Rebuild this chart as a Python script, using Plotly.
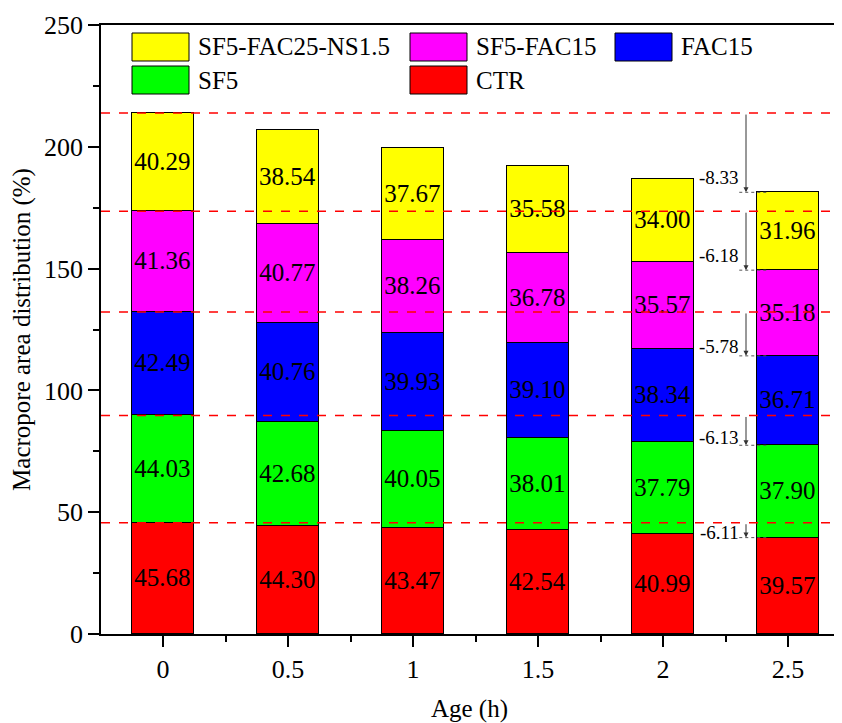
import plotly.graph_objects as go

# 数据
ages = [0, 0.5, 1, 1.5, 2, 2.5]
age_labels = ["0", "0.5", "1", "1.5", "2", "2.5"]
series_names = ["CTR", "SF5", "FAC15", "SF5-FAC15", "SF5-FAC25-NS1.5"]
ctr = [45.68, 44.30, 43.47, 42.54, 40.99, 39.57]
sf5 = [44.03, 42.68, 40.05, 38.01, 37.79, 37.90]
fac15 = [42.49, 40.76, 39.93, 39.10, 38.34, 36.71]
sf5_fac15 = [41.36, 40.77, 38.26, 36.78, 35.57, 35.18]
sf5_fac25_ns = [40.29, 38.54, 37.67, 35.58, 34.00, 31.96]
colors = ["#FF0000", "#00FF00", "#0000FF", "#FF00FF", "#FFFF00"]

FONT = "Liberation Serif"


def build_figure():
    values = [ctr, sf5, fac15, sf5_fac15, sf5_fac25_ns]
    fig = go.Figure()

    for name, vals, col in zip(series_names, values, colors):
        fig.add_trace(go.Bar(
            x=ages, y=vals, name=name, width=0.25,
            marker=dict(color=col, line=dict(color="black", width=1.5)),
            text=[f"{v:.2f}" for v in vals], textposition="inside",
            insidetextanchor="middle", textangle=0, constraintext="none",
            textfont=dict(family=FONT, size=25, color="black"),
            showlegend=False,
        ))

    # 累计值: 第一组(0 h)与最后一组(2.5 h)
    first_cum, last_cum = [], []
    s0 = s1 = 0
    for vals in values:
        s0 += vals[0]
        s1 += vals[-1]
        first_cum.append(s0)
        last_cum.append(s1)

    label_shift = [5, 8, 9, 15, 15]
    shapes, annotations = [], []
    for y0, y1, vals, ys in zip(first_cum, last_cum, values, label_shift):
        shapes.append(dict(type="line", xref="paper", x0=0, x1=1, yref="y", y0=y0, y1=y0,
                           line=dict(color="#FF0000", width=1.6, dash="dash")))
        shapes.append(dict(type="line", xref="x", x0=2.305, x1=2.42, yref="y", y0=y1, y1=y1,
                           line=dict(color="#555555", width=1, dash="dot")))
        annotations.append(dict(x=2.332, y=y1, ax=2.332, ay=y0, xref="x", yref="y",
                                axref="x", ayref="y", text="", showarrow=True,
                                arrowhead=2, arrowsize=1, arrowwidth=1, arrowcolor="#333333"))
        annotations.append(dict(x=2.31, y=y1, xref="x", yref="y", text=f"-{vals[0] - vals[-1]:.2f}",
                                showarrow=False, xanchor="right", yanchor="middle", yshift=ys,
                                font=dict(family=FONT, size=19, color="black")))

    # 手动图例 (像素位置相对于绘图区)
    legend_items = [
        ("SF5-FAC25-NS1.5", colors[4], 132, 33),
        ("SF5-FAC15", colors[3], 410, 33),
        ("FAC15", colors[2], 615, 33),
        ("SF5", colors[1], 132, 66),
        ("CTR", colors[0], 410, 66),
    ]
    for label, col, px0, py0 in legend_items:
        shapes.append(dict(type="rect", xref="paper", yref="paper",
                           x0=(px0 - 101) / 737, x1=(px0 + 57 - 101) / 737,
                           y0=(634 - py0) / 609, y1=(634 - py0 - 28) / 609,
                           fillcolor=col, line=dict(color="black", width=1)))
        annotations.append(dict(xref="paper", yref="paper",
                                x=(px0 + 64 - 101) / 737, y=(634 - py0 - 14) / 609,
                                text=label, showarrow=False, xanchor="left", yanchor="middle",
                                font=dict(family=FONT, size=25, color="black")))

    fig.update_layout(
        barmode="stack",
        width=834, height=715,
        margin=dict(l=93, r=4, t=17, b=89),
        plot_bgcolor="white", paper_bgcolor="white",
        font=dict(family=FONT, size=25, color="black"),
        shapes=shapes, annotations=annotations,
        bargap=0,
    )
    fig.update_xaxes(
        range=[-0.248, 2.7], tickvals=ages, ticktext=age_labels,
        ticks="outside", ticklen=11, tickwidth=1.5, tickcolor="black",
        minor=dict(tickvals=[0.25, 0.75, 1.25, 1.75, 2.25], ticks="outside", ticklen=6,
                   tickwidth=1.5, tickcolor="black"),
        showline=True, linecolor="black", linewidth=1.5, mirror=True,
        showgrid=False, zeroline=False, automargin=False,
        title=dict(text="Age (h)", standoff=18, font=dict(size=25)),
        tickfont=dict(size=26),
    )
    fig.update_yaxes(
        range=[0, 250], tickvals=[0, 50, 100, 150, 200, 250],
        ticks="outside", ticklen=11, tickwidth=1.5, tickcolor="black",
        minor=dict(tickvals=[25, 75, 125, 175, 225], ticks="outside", ticklen=6,
                   tickwidth=1.5, tickcolor="black"),
        showline=True, linecolor="black", linewidth=1.5, mirror=True,
        showgrid=False, zeroline=False, automargin=False,
        title=dict(text="Macropore area distribution (%)", standoff=8, font=dict(size=25)),
        tickfont=dict(size=26),
    )
    return fig


if __name__ == "__main__":
    fig = build_figure()
    fig.write_html("out.html")
